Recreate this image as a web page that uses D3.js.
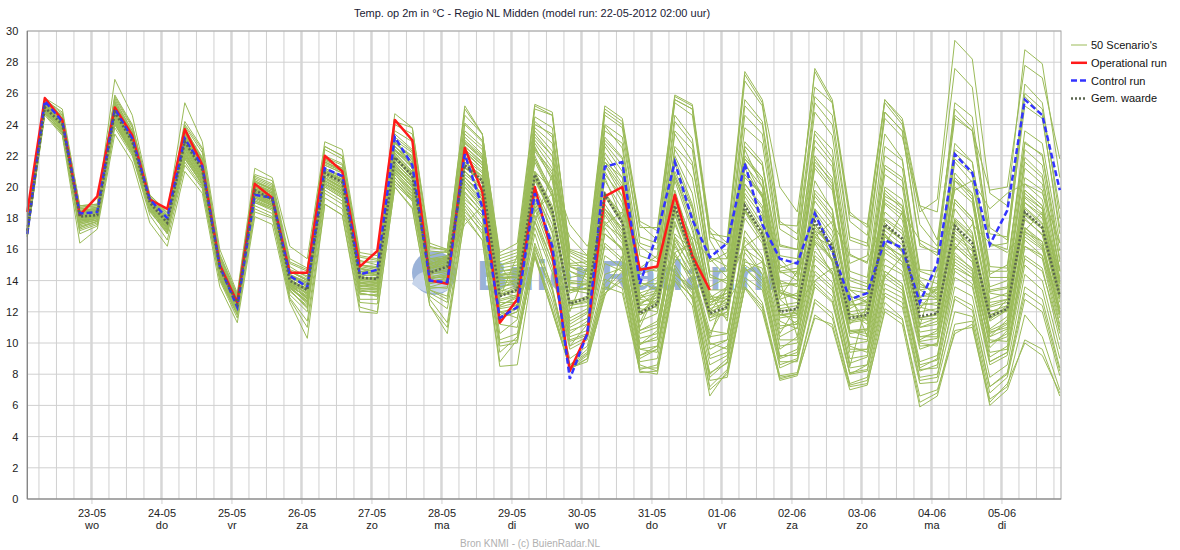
<!DOCTYPE html>
<html>
<head>
<meta charset="utf-8">
<script src="https://cdn.jsdelivr.net/npm/d3@7"></script>
<style>
  body { margin: 0; background: #fff; }
  text { font-family: "Liberation Sans", Arial, sans-serif; }
</style>
</head>
<body>
<div id="chart-area"></div>
<script>
// 60 steps of 6 hours, first one at 22-05-2012 02:00
var startTime = Date.UTC(2012, 4, 22, 2);
var stepHours = 6;

var dayLabels = ["23-05","24-05","25-05","26-05","27-05","28-05","29-05","30-05","31-05","01-06","02-06","03-06","04-06","05-06"];
var weekdayLabels = ["wo","do","vr","za","zo","ma","di","wo","do","vr","za","zo","ma","di"];
var yTicks = [0,2,4,6,8,10,12,14,16,18,20,22,24,26,28,30];

var operationalRun = [18.4,25.7,24.3,18.2, 19.4,25.1,23.3,19.2, 18.6,23.7,21.4,15.0, 12.6,20.2,19.3,14.5,
  14.5,22.0,21.0,14.9, 15.9,24.3,23.0,14.0, 13.8,22.5,19.7,11.3, 12.8,20.0,15.7,8.2, 10.6,19.4,20.0,14.7,
  14.9,19.5,15.6,13.4];

var controlRun = [17.0,25.5,24.2,18.3, 18.4,25.0,23.1,19.2, 18.0,23.1,21.3,14.9, 12.3,19.5,19.3,14.3,
  13.6,21.2,20.7,14.4, 14.7,23.2,21.4,14.0, 13.9,22.1,18.7,11.6, 12.3,19.6,16.2,7.7, 10.6,21.3,21.6,13.8,
  17.0,21.6,17.9,15.5, 16.4,21.5,17.6,15.4, 15.1,18.3,15.9,12.8, 13.2,16.6,16.1,12.6, 15.1,22.1,20.9,16.3,
  18.5,25.6,24.6,19.8];

var meanValues = [17.2,25.1,24.0,18.1, 18.2,24.8,22.9,19.0, 17.7,22.9,21.1,14.8, 12.5,19.8,19.2,14.0,
  13.4,20.9,20.3,14.2, 14.1,21.9,20.7,14.5, 14.9,21.4,20.4,13.0, 13.4,20.8,18.5,12.5, 12.9,19.5,17.7,11.9,
  12.5,18.8,15.5,11.9, 12.3,18.8,17.0,12.0, 12.2,17.8,16.2,11.6, 11.8,17.6,16.7,11.7, 11.9,17.5,16.4,11.7,
  12.2,18.4,17.4,13.0];

var scenarios = [
  [17.0,25.4,24.2,18.3, 18.4,25.0,23.1,19.2, 17.9,23.2,21.3,14.9, 12.3,19.6,19.3,14.3, 13.6,21.2,20.6,14.4, 14.6,23.1,21.2,14.0, 13.8,22.0,19.1,11.7, 12.2,19.5,16.2,10.1, 10.5,17.0,16.1,9.2, 9.8,15.6,14.2,10.3, 13.8,16.2,17.0,14.6, 14.0,18.6,15.2,9.4, 9.6,15.8,15.0,10.1, 10.3,16.2,15.2,9.7, 10.8,17.1,16.5,11.9],
  [17.3,25.0,23.9,17.9, 18.1,25.6,23.6,19.0, 17.5,23.8,21.8,15.2, 12.8,20.4,19.8,14.6, 14.1,21.9,21.4,15.0, 14.8,22.8,22.0,15.3, 15.5,23.2,22.1,14.6, 14.8,23.6,22.3,15.1, 15.2,23.9,22.5,14.8, 15.6,24.6,23.1,15.5, 14.9,25.2,24.0,16.3, 16.0,24.8,23.3,15.7, 15.1,23.4,21.8,14.2, 13.8,21.6,20.3,14.4, 15.0,22.8,22.1,15.9],
  [16.9,24.8,23.6,17.6, 17.9,24.2,22.4,18.7, 17.3,22.1,20.4,14.3, 12.1,19.0,18.6,13.5, 12.6,20.1,19.4,13.2, 13.0,20.8,19.5,13.6, 13.9,19.7,18.4,11.6, 12.0,17.4,14.5,9.6, 10.2,15.1,14.6,8.8, 9.0,14.6,13.2,8.1, 8.7,14.2,13.4,8.4, 8.9,13.8,12.7,8.1, 8.3,13.5,12.9,7.8, 8.0,12.8,12.1,7.2, 8.1,13.6,12.8,8.4],
  [17.2,25.2,24.4,18.5, 18.6,24.6,22.7,18.8, 17.8,22.6,20.9,14.6, 12.6,20.0,19.5,14.1, 13.1,20.6,19.9,13.8, 13.7,21.5,20.1,14.8, 15.2,21.8,20.9,13.6, 13.9,21.6,19.4,13.4, 13.5,20.6,17.9,11.3, 13.6,15.8,16.4,13.2, 11.4,19.6,18.1,12.8, 13.2,19.1,17.6,12.5, 12.4,18.9,17.9,12.3, 12.0,18.6,17.1,10.8, 11.3,19.4,18.6,13.8],
  [17.4,25.5,24.6,18.7, 18.8,25.9,24.0,19.4, 18.1,24.0,22.4,15.6, 13.0,20.6,20.1,15.1, 14.6,22.4,21.8,15.3, 15.0,23.6,22.9,15.9, 15.8,24.1,23.0,15.2, 15.6,24.5,23.8,15.4, 14.6,22.8,21.4,13.9, 13.4,21.5,18.7,12.6, 13.0,21.2,19.3,13.3, 12.8,20.4,18.5,11.9, 11.2,19.0,18.2,12.4, 12.6,20.4,19.2,13.3, 13.5,21.9,20.8,14.6],
  [16.8,24.9,23.5,17.0, 17.5,23.8,22.0,18.2, 16.6,21.4,19.9,14.0, 11.6,18.4,18.0,12.9, 11.4,19.3,18.6,12.6, 12.5,20.2,19.1,12.8, 11.3,18.6,17.0,9.4, 10.4,16.2,13.0,8.6, 9.6,13.8,15.0,9.9, 10.4,16.6,14.8,9.6, 10.2,16.0,15.2,9.8, 10.0,14.6,13.6,8.7, 9.1,14.2,13.4,8.6, 8.9,15.4,14.6,9.1, 9.8,16.2,15.4,10.6],
  [17.1,25.1,23.8,17.8, 18.0,24.4,22.6,18.9, 17.6,22.4,20.6,14.5, 12.4,19.7,19.0,13.7, 12.9,20.8,20.1,14.0, 14.2,21.8,20.6,14.6, 15.0,21.2,20.4,13.4, 13.2,20.4,18.2,12.0, 14.8,17.6,18.4,16.2, 15.4,18.2,15.6,12.0, 13.5,21.8,20.6,14.5, 14.6,22.6,21.3,14.0, 13.6,21.4,20.6,13.8, 13.1,20.9,19.6,13.2, 13.0,20.6,19.8,14.2],
  [17.5,25.6,24.8,18.6, 18.5,25.3,23.4,19.3, 18.0,23.5,21.6,15.0, 12.7,20.2,19.6,14.4, 13.8,21.5,21.0,14.8, 14.3,22.4,21.5,15.0, 15.6,22.8,21.8,14.1, 14.2,22.5,20.8,13.8, 13.8,21.9,20.2,12.6, 12.9,20.7,17.5,12.2, 11.6,18.5,17.2,11.4, 10.9,16.5,15.3,10.4, 10.2,16.8,16.0,11.0, 11.4,17.9,16.8,11.5, 12.4,19.3,18.3,13.1],
  [16.9,25.0,23.7,17.4, 17.8,24.0,22.2,18.5, 17.0,21.8,20.2,14.2, 12.0,19.1,18.7,13.3, 12.4,20.3,19.6,13.5, 13.4,21.0,19.8,14.1, 14.4,20.6,19.5,12.4, 12.9,19.8,17.0,11.2, 11.9,18.4,16.8,10.6, 11.0,17.6,15.0,10.0, 9.6,15.8,14.4,9.2, 9.2,15.0,13.9,8.5, 12.6,14.2,15.6,13.8, 13.2,15.0,14.2,10.2, 10.1,17.0,16.1,11.2],
  [17.3,25.3,24.3,18.2, 18.3,25.4,23.5,19.1, 17.9,23.6,21.7,15.3, 12.9,20.3,19.9,14.7, 14.3,22.0,21.5,15.2, 15.2,23.4,22.4,15.6, 15.9,24.0,22.9,15.0, 15.4,24.2,23.2,15.0, 14.9,24.6,23.8,16.4, 16.0,25.4,24.6,16.8, 16.3,26.8,25.2,17.6, 17.5,27.4,25.4,17.8, 16.9,25.6,24.2,18.4, 19.2,29.4,28.2,19.6, 18.8,28.8,27.9,20.6],
  [17.0,25.2,24.0,18.0, 18.2,24.7,22.8,19.0, 17.7,22.9,21.0,14.7, 12.5,19.9,19.4,14.0, 13.3,20.9,20.3,14.3, 14.0,21.7,20.8,14.4, 14.6,20.8,19.9,12.9, 15.6,18.4,19.6,16.8, 15.6,17.6,16.8,13.2, 12.2,18.4,15.8,11.4, 12.0,18.6,16.8,11.6, 11.8,17.4,16.0,11.3, 11.5,17.2,16.3,11.0, 11.2,16.7,15.6,10.9, 11.7,17.9,17.0,12.8],
  [17.4,25.4,24.5,18.4, 18.7,25.2,23.3,19.4, 18.2,23.4,21.5,15.1, 12.6,19.4,18.9,13.6, 13.0,20.4,19.7,13.7, 13.5,20.6,19.4,13.4, 12.8,19.4,18.0,10.6, 11.5,17.8,15.3,9.8, 11.2,18.6,17.2,11.9, 13.0,20.8,18.2,12.8, 12.6,20.2,18.6,11.8, 11.6,18.4,16.8,10.8, 10.4,16.2,15.6,10.2, 10.8,17.0,16.0,10.4, 11.5,18.2,17.3,12.2],
  [17.0,24.9,23.7,17.7, 18.0,24.5,22.5,18.6, 17.4,22.2,20.4,14.4, 12.2,19.4,18.8,13.8, 12.8,20.4,19.8,13.6, 13.8,21.4,20.2,14.2, 14.2,20.2,18.9,12.2, 12.4,18.6,15.6,10.4, 10.8,16.4,15.4,9.6, 9.4,14.8,12.8,7.2, 8.3,14.0,12.6,7.9, 8.1,12.8,11.9,7.3, 7.6,12.6,11.6,6.2, 6.8,11.2,11.4,6.4, 7.2,11.8,10.4,7.0],
  [17.2,25.0,23.9,18.1, 18.2,24.8,23.0,19.1, 17.6,23.0,21.2,14.9, 12.5,19.8,19.2,14.0, 13.5,21.0,20.4,14.1, 14.0,22.0,20.9,14.7, 15.1,22.4,21.4,14.0, 14.0,22.0,19.6,13.2, 13.6,21.0,19.0,12.5, 13.1,19.8,16.2,12.4, 12.8,19.9,18.3,12.9, 14.6,16.8,17.8,15.6, 15.2,18.0,17.2,14.0, 12.9,19.2,18.0,12.3, 12.6,19.0,18.2,13.6],
  [17.3,25.1,24.1,18.2, 18.4,25.1,23.2,18.9, 17.8,23.1,21.2,14.8, 12.4,19.9,19.3,13.9, 13.4,21.0,20.5,14.2, 14.2,22.2,21.0,14.6, 14.8,21.6,20.6,13.2, 13.0,20.6,18.6,12.2, 12.4,18.9,17.2,11.4, 11.9,18.2,15.2,11.6, 12.4,18.4,16.6,11.8, 12.0,17.2,16.4,11.7, 11.8,17.7,16.6,11.5, 11.6,17.2,16.2,11.4, 12.1,18.6,17.6,13.2],
  [17.1,24.9,23.8,17.9, 18.1,24.6,22.7,18.8, 17.6,22.7,20.8,14.6, 12.3,19.5,18.9,13.8, 13.2,20.6,20.0,13.9, 13.6,21.2,20.0,13.9, 14.0,20.4,19.0,12.0, 11.6,17.0,13.4,9.0, 9.8,14.4,14.8,9.9, 10.8,16.8,15.4,11.8, 12.9,20.6,19.5,14.8, 15.2,23.6,22.4,15.1, 15.6,24.8,23.6,16.2, 15.8,25.4,24.5,16.4, 16.0,25.8,24.6,17.0],
  [17.2,25.3,24.2,18.3, 18.5,25.2,23.2,19.2, 18.0,23.3,21.4,15.0, 12.6,20.0,19.5,14.2, 13.7,21.2,20.7,14.5, 14.4,22.6,21.4,14.9, 15.3,22.6,21.5,14.3, 14.5,23.0,21.6,14.6, 14.0,22.2,20.6,13.2, 13.6,21.8,18.9,13.6, 14.2,22.9,21.6,15.0, 14.4,21.8,20.2,13.4, 12.6,19.6,18.6,12.6, 12.4,19.0,17.8,12.1, 12.0,18.0,16.9,12.6],
  [16.9,24.7,23.4,17.3, 17.7,24.0,22.1,18.4, 17.1,21.9,20.1,14.1, 11.9,19.0,18.5,13.4, 12.2,19.8,19.1,13.1, 13.1,20.6,19.3,13.5, 13.6,19.2,18.2,11.2, 11.0,16.4,13.6,8.6, 9.4,14.1,13.5,8.3, 8.6,14.2,12.9,8.0, 9.0,15.0,14.2,9.1, 9.6,15.4,14.4,9.0, 9.2,14.6,13.8,8.3, 8.4,13.6,13.0,7.8, 8.6,14.4,13.4,9.0],
  [17.3,25.5,24.4,18.5, 18.6,25.5,23.6,19.3, 18.0,23.7,21.9,15.4, 12.9,20.5,20.0,14.9, 14.2,21.8,21.2,15.0, 14.9,23.2,22.3,15.4, 15.4,23.4,22.4,14.8, 15.0,23.8,22.8,14.9, 14.4,23.2,21.9,14.4, 14.8,23.4,21.6,14.6, 14.6,23.8,22.8,15.6, 15.4,23.4,21.9,14.6, 14.2,22.6,21.7,14.7, 14.6,22.8,21.6,14.9, 14.8,22.9,22.0,15.4],
  [17.0,25.1,24.0,18.0, 18.1,24.9,22.9,18.9, 17.5,22.8,20.9,14.6, 12.4,19.7,19.1,13.9, 13.1,20.7,20.1,14.0, 13.9,21.6,20.5,14.3, 14.3,21.0,19.8,12.8, 13.1,21.0,19.8,13.4, 13.5,20.8,19.4,12.8, 13.9,22.6,21.4,15.2, 15.8,25.6,24.2,17.3, 16.6,25.8,24.6,16.8, 16.4,24.4,23.2,18.8, 18.4,27.6,26.4,17.4, 16.6,26.6,25.4,18.0],
  [17.4,25.2,24.3,18.4, 18.4,24.8,22.9,18.9, 17.8,22.8,21.0,14.7, 12.5,19.6,19.0,13.8, 13.2,20.5,19.9,13.9, 13.8,21.2,20.0,14.0, 14.1,20.6,19.4,12.6, 12.6,19.2,16.6,11.0, 11.6,17.8,16.4,10.8, 11.4,16.4,14.0,10.6, 12.6,14.6,15.2,14.0, 10.4,15.9,14.6,9.9, 10.1,15.4,14.6,9.8, 9.9,15.8,14.7,10.0, 10.4,16.6,15.6,11.6],
  [17.1,25.0,23.9,18.1, 18.3,25.3,23.4,19.2, 17.9,23.4,21.5,15.1, 12.7,20.1,19.6,14.3, 13.9,21.6,21.1,14.9, 14.7,22.9,21.9,15.1, 15.4,22.9,21.9,14.4, 14.4,22.8,21.2,14.0, 13.9,21.4,19.8,12.9, 13.2,20.4,17.2,12.8, 13.2,20.8,19.4,13.4, 13.0,19.6,18.2,12.2, 12.8,19.8,18.8,12.9, 13.4,20.6,19.4,12.8, 13.2,20.2,19.2,14.1],
  [17.2,24.8,23.6,17.6, 17.9,24.3,22.4,18.6, 17.2,22.0,20.3,14.3, 12.1,19.2,18.7,13.6, 12.5,20.2,19.5,13.4, 13.2,20.9,19.7,13.8, 14.0,20.0,18.6,11.8, 12.5,18.8,16.0,10.6, 11.4,17.4,15.9,10.3, 10.6,16.2,14.4,9.9, 10.2,17.2,15.6,10.9, 11.4,17.0,15.8,10.8, 10.9,16.8,15.9,11.1, 14.8,19.8,20.4,18.6, 19.6,20.2,19.6,16.4],
  [17.3,25.4,24.4,18.6, 18.7,25.8,23.9,19.5, 18.3,24.2,22.5,15.7, 13.1,20.8,20.4,15.4, 14.8,22.6,22.0,15.6, 15.4,24.0,23.4,16.2, 15.9,24.6,23.4,15.6, 16.0,25.0,24.6,15.8, 15.2,25.0,24.2,17.6, 16.6,25.6,25.0,17.2, 15.4,22.4,20.0,12.8, 11.8,17.2,15.2,10.8, 10.6,16.4,15.2,10.4, 10.4,16.8,15.9,10.7, 11.0,17.4,16.3,12.0],
  [16.9,24.9,23.8,17.8, 18.0,24.7,22.8,18.8, 17.5,22.7,20.9,14.7, 12.4,19.8,19.2,14.0, 13.3,21.0,20.3,14.1, 14.1,22.1,21.0,14.8, 15.0,21.6,20.7,13.3, 13.7,21.0,18.8,12.7, 12.9,19.6,17.8,11.8, 12.4,18.7,15.4,11.8, 12.2,18.9,17.1,12.1, 12.1,17.6,16.0,11.5, 11.7,17.5,16.6,11.6, 11.9,17.6,16.5,11.8, 12.2,18.4,17.4,13.0],
  [17.5,25.3,24.6,18.8, 18.9,25.0,23.0,19.0, 17.7,22.5,20.7,14.5, 12.2,19.3,18.8,13.5, 12.7,20.0,19.3,13.3, 13.3,20.4,19.2,13.4, 13.0,19.0,17.6,10.2, 10.6,16.0,13.4,8.4, 9.2,13.4,14.6,8.1, 8.2,14.0,13.0,7.0, 8.0,13.6,12.4,7.6, 7.9,11.8,11.0,7.0, 7.3,12.2,11.5,6.6, 7.0,10.6,11.2,6.0, 7.0,10.2,9.6,6.6],
  [17.2,25.2,24.1,18.2, 18.3,24.9,23.0,19.0, 17.7,23.0,21.1,14.8, 12.5,19.9,19.3,14.1, 13.4,21.1,20.4,14.2, 14.1,22.0,20.9,14.6, 14.9,21.5,20.5,13.1, 13.6,20.9,18.6,12.6, 13.0,19.7,17.9,12.0, 12.6,19.0,15.7,12.0, 12.5,19.1,17.3,12.2, 12.4,18.1,16.5,11.8, 12.0,17.9,17.0,12.0, 12.2,17.8,16.7,12.0, 12.4,18.7,17.7,13.3],
  [17.1,25.1,24.0,18.0, 18.1,24.5,22.6,18.7, 17.4,22.4,20.6,14.5, 12.3,19.5,19.0,13.7, 12.9,20.6,19.9,13.8, 13.9,21.4,20.3,14.4, 15.2,17.6,18.8,15.0, 13.4,20.6,18.0,12.4, 12.7,19.6,18.2,12.4, 13.4,20.6,18.0,12.9, 13.6,21.4,20.0,13.6, 13.8,21.6,20.4,13.6, 13.4,21.2,20.4,13.4, 13.6,21.8,20.8,13.6, 14.0,21.6,20.6,14.7],
  [17.3,25.3,24.2,18.3, 18.5,25.2,23.2,19.1, 17.9,23.2,21.4,15.0, 12.6,20.0,19.4,14.2, 13.6,21.2,20.6,14.4, 14.3,22.3,21.3,14.9, 15.2,22.3,21.2,14.2, 14.3,22.3,20.6,13.9, 13.7,21.4,19.4,12.8, 12.6,19.4,16.6,11.8, 11.8,18.0,16.4,11.1, 11.2,16.8,15.4,10.7, 10.9,16.9,16.0,11.2, 11.6,18.0,17.0,11.8, 12.2,19.0,18.0,13.4],
  [17.0,24.8,23.6,17.5, 17.8,24.2,22.3,18.6, 17.1,22.0,20.2,14.2, 12.0,19.1,18.6,13.4, 12.3,20.0,19.3,13.2, 13.0,20.4,19.1,13.2, 12.6,18.8,17.4,10.0, 10.2,15.6,12.6,8.3, 9.0,13.2,14.0,8.4, 8.4,14.4,13.4,7.6, 7.8,13.6,12.2,7.8, 8.0,12.6,11.6,7.4, 7.8,13.0,12.3,7.4, 7.5,12.0,11.7,6.8, 7.8,12.8,12.0,7.9],
  [17.4,25.4,24.3,18.4, 18.6,25.4,23.4,19.2, 18.0,23.5,21.6,15.2, 12.8,20.3,19.8,14.6, 14.0,21.7,21.2,14.8, 14.6,22.6,21.6,15.0, 15.3,22.8,21.8,14.4, 14.6,23.2,22.0,14.9, 14.6,23.6,22.8,15.6, 15.2,24.2,22.8,15.4, 15.4,24.6,23.4,16.2, 16.0,25.4,24.0,16.6, 16.2,24.8,23.6,16.4, 15.6,24.4,23.6,16.2, 16.4,25.2,24.4,17.4],
  [17.1,25.0,23.8,17.9, 18.0,24.6,22.7,18.9, 17.5,22.6,20.8,14.6, 12.3,19.6,19.0,13.8, 13.0,20.6,20.0,14.0, 13.9,21.6,20.4,14.4, 14.6,21.0,20.0,12.7, 13.0,20.0,17.6,11.6, 12.2,18.6,17.0,11.0, 13.4,15.2,16.8,15.4, 14.2,16.2,14.4,10.4, 11.0,16.6,15.4,10.6, 10.8,16.4,15.5,10.7, 10.9,16.4,15.4,10.6, 11.2,17.4,16.5,12.2],
  [17.2,25.2,24.1,18.1, 18.3,25.0,23.1,19.1, 17.8,23.1,21.3,14.9, 12.5,19.8,19.3,14.0, 13.5,21.0,20.4,14.2, 14.1,21.9,20.8,14.5, 14.7,21.4,20.3,13.0, 13.5,20.8,18.4,12.5, 12.8,19.4,17.6,11.8, 12.4,18.6,15.3,11.6, 12.0,18.5,16.8,11.8, 11.9,17.6,16.0,11.4, 11.6,17.4,16.6,11.6, 11.8,17.4,16.2,11.6, 12.1,18.3,17.3,12.9],
  [16.8,24.7,23.4,17.2, 17.6,24.1,22.2,18.5, 17.0,21.6,20.0,14.1, 11.8,18.8,18.3,13.1, 12.0,19.6,18.9,12.8, 12.8,20.4,19.2,13.0, 12.2,18.4,17.2,9.8, 10.0,15.8,12.2,8.4, 9.0,13.0,15.6,9.0, 9.6,15.6,14.2,9.2, 9.8,15.2,14.8,9.6, 10.4,16.8,16.2,11.2, 12.2,19.4,18.8,13.6, 13.4,22.4,21.6,14.6, 14.6,23.6,22.8,16.4],
  [17.5,25.6,24.7,18.7, 18.8,25.7,23.8,19.4, 18.2,23.9,22.2,15.5, 13.0,20.7,20.2,15.2, 14.7,22.6,22.0,15.5, 15.3,24.2,23.8,16.1, 16.0,25.0,23.4,15.4, 15.8,25.2,24.6,16.0, 15.6,25.2,24.4,17.8, 17.2,25.8,25.2,16.6, 14.6,21.6,19.4,12.0, 11.2,16.4,14.4,9.8, 9.4,14.6,13.8,8.8, 9.2,14.8,14.2,9.4, 9.6,15.4,14.6,10.8],
  [17.0,25.0,23.9,18.0, 18.2,24.8,22.9,18.9, 17.6,22.8,21.0,14.7, 12.5,19.9,19.4,14.1, 13.4,21.1,20.5,14.3, 14.4,22.4,21.2,14.8, 15.2,22.2,21.2,13.8, 14.0,21.8,19.4,13.4, 13.8,21.6,20.6,13.6, 14.2,22.4,20.6,14.2, 14.0,22.0,20.6,14.0, 13.6,21.2,19.8,13.0, 12.6,20.0,19.2,13.0, 13.0,20.4,19.6,13.4, 13.6,21.2,20.2,14.6],
  [17.3,25.1,24.1,18.3, 18.5,24.6,22.7,18.8, 17.6,22.5,20.7,14.5, 12.4,19.5,19.0,13.7, 12.9,20.4,19.7,13.6, 13.6,21.0,19.8,13.9, 14.2,20.0,18.8,12.0, 12.2,18.2,15.2,10.2, 10.6,16.2,15.2,9.6, 9.8,15.8,13.8,9.0, 9.4,15.4,14.0,9.0, 9.4,14.4,13.4,8.4, 8.6,13.8,13.2,8.2, 8.6,14.2,13.6,8.6, 9.2,15.0,14.0,9.6],
  [17.2,25.3,24.2,18.2, 18.4,25.1,23.2,19.1, 17.9,23.3,21.4,15.0, 12.6,20.1,19.6,14.3, 13.7,21.4,20.9,14.6, 14.5,22.8,21.8,15.2, 15.5,23.0,22.0,14.6, 14.7,23.4,22.0,14.6, 14.2,22.6,21.0,13.8, 13.8,22.0,19.6,13.4, 13.4,21.8,20.4,13.8, 13.8,21.4,20.0,13.4, 13.2,20.8,20.0,13.4, 12.8,20.0,19.0,12.6, 12.8,19.8,18.8,13.9],
  [16.9,24.8,23.5,17.4, 17.8,24.1,22.3,18.6, 17.2,21.8,20.2,14.2, 11.8,18.6,18.1,12.8, 11.0,18.9,18.2,12.3, 12.0,20.0,18.7,12.4, 11.0,18.0,16.6,8.8, 10.2,15.5,12.0,8.5, 9.3,13.6,13.2,8.2, 8.0,14.0,12.4,6.6, 8.2,13.5,12.0,7.7, 8.0,11.6,11.2,7.2, 7.4,12.0,11.2,5.9, 6.6,10.8,11.0,6.2, 7.4,10.0,9.2,6.8],
  [17.1,25.2,24.0,18.1, 18.3,25.1,23.2,19.2, 18.0,23.4,21.6,15.2, 12.8,20.2,19.7,14.6, 14.0,21.8,21.2,15.0, 14.8,23.0,22.2,15.4, 15.6,23.6,22.6,15.0, 15.2,24.0,23.4,15.6, 15.0,24.0,23.2,16.8, 16.4,25.6,25.0,17.0, 16.8,27.4,25.6,20.0, 18.4,26.4,25.4,18.2, 17.6,25.6,24.4,18.8, 16.6,24.6,23.6,19.8, 20.0,27.8,27.0,21.8],
  [17.2,25.1,24.0,18.1, 18.2,24.7,22.8,18.9, 17.6,22.7,20.9,14.6, 12.4,19.7,19.1,13.9, 13.2,20.8,20.2,14.1, 14.0,21.8,20.7,14.5, 14.7,21.3,20.2,13.0, 13.4,20.6,18.2,12.4, 12.6,19.4,17.8,12.0, 12.8,19.2,16.2,12.2, 12.6,19.4,17.6,12.4, 12.6,18.6,17.2,12.0, 12.2,18.4,17.4,12.2, 13.6,16.0,17.6,16.4, 15.8,17.2,18.4,14.6],
  [17.0,24.9,23.7,17.8, 18.0,24.4,22.5,18.7, 17.3,22.1,20.4,14.4, 12.2,19.3,18.8,13.6, 12.7,20.2,19.5,13.5, 13.5,21.1,20.0,14.1, 14.3,20.4,19.2,12.3, 12.6,19.0,16.4,10.8, 11.2,17.0,16.0,10.0, 10.2,17.0,16.0,12.4, 13.6,22.6,21.4,15.4, 14.2,22.0,20.6,12.8, 11.4,17.0,15.8,10.0, 9.8,15.2,14.4,8.8, 9.4,16.2,15.6,11.0],
  [17.4,25.3,24.3,18.4, 18.6,25.3,23.3,19.2, 18.0,23.4,21.5,15.1, 12.7,20.1,19.6,14.3, 13.8,21.4,20.9,14.6, 14.4,22.4,21.4,14.8, 15.0,22.0,21.0,13.6, 13.8,21.8,19.8,13.4, 13.2,20.4,18.6,12.2, 12.0,17.8,14.8,10.8, 10.6,16.6,15.4,10.2, 10.2,15.6,14.6,9.6, 9.6,15.0,14.4,9.6, 10.0,15.6,14.8,10.0, 10.6,16.8,16.0,11.8],
  [17.1,25.1,24.0,18.0, 18.1,24.7,22.8,18.9, 17.6,22.8,21.0,14.7, 12.5,19.8,19.2,14.0, 13.4,20.9,20.3,14.1, 14.1,21.9,20.9,14.6, 14.9,21.6,20.7,13.4, 14.2,17.8,20.8,17.6, 16.2,18.6,17.4,12.4, 12.6,19.4,16.6,12.6, 13.2,20.2,18.8,13.2, 13.0,19.4,18.0,12.4, 12.6,19.2,18.4,12.8, 12.8,19.2,18.0,12.4, 12.8,19.6,18.6,13.8],
  [16.8,24.6,23.3,16.4, 17.3,23.4,21.6,17.7, 16.2,21.0,19.6,13.6, 11.3,18.1,17.6,12.6, 10.3,18.9,18.2,12.0, 11.9,20.0,18.6,12.4, 10.6,18.2,16.6,8.5, 8.6,15.6,12.0,8.4, 8.8,13.2,14.2,8.6, 8.2,14.4,13.6,7.8, 8.8,14.8,13.8,8.6, 9.0,14.0,13.0,8.0, 8.6,14.4,13.6,8.4, 9.0,14.6,13.8,8.8, 9.4,15.6,14.8,10.2],
  [17.6,25.7,25.0,18.8, 18.9,26.9,24.6,19.5, 18.4,25.4,22.9,16.0, 13.2,21.2,20.6,16.2, 15.4,22.9,22.4,15.8, 15.6,24.7,23.8,16.4, 16.0,25.2,23.4,15.8, 16.4,25.3,24.8,15.9, 15.4,24.8,24.0,17.4, 17.4,25.9,25.3,17.4, 16.4,27.2,25.4,17.8, 17.0,27.6,25.6,18.4, 17.4,25.4,24.0,17.6, 16.2,25.0,23.8,17.0, 16.8,26.0,25.0,18.6],
  [17.2,25.0,23.8,17.9, 18.0,24.5,22.6,18.8, 17.4,22.3,20.5,14.4, 12.3,19.4,18.9,13.8, 12.8,20.4,19.8,13.7, 13.7,21.3,20.2,14.2, 14.5,20.6,19.6,12.4, 13.0,19.8,17.2,11.4, 12.0,18.2,16.6,10.8, 11.2,16.8,14.6,10.4, 10.6,16.8,15.4,10.6, 12.4,14.0,14.8,13.2, 10.4,16.0,15.2,10.4, 10.6,16.2,15.2,10.4, 10.9,17.2,16.2,11.9],
  [17.3,25.2,24.2,18.3, 18.4,25.2,23.3,19.2, 17.9,23.3,21.5,15.1, 12.7,20.2,19.7,14.4, 13.9,21.6,21.0,14.7, 14.6,22.9,21.8,15.1, 15.3,22.6,21.6,14.2, 14.2,22.4,21.0,14.2, 14.4,23.0,21.8,14.8, 14.6,23.6,22.4,14.4, 13.8,22.6,21.4,14.6, 14.8,23.0,21.6,14.2, 13.8,22.0,21.2,14.6, 14.2,22.2,21.0,14.2, 14.2,22.4,21.4,15.2],
  [17.0,24.8,23.6,17.7, 17.9,24.3,22.4,18.7, 17.3,22.2,20.5,14.4, 12.2,19.3,18.8,13.6, 12.6,20.2,19.6,13.4, 13.4,20.8,19.6,13.6, 13.5,19.6,18.4,11.6, 12.0,17.8,14.8,9.8, 10.4,15.6,14.8,9.2, 9.6,15.0,13.4,8.6, 9.2,14.8,13.6,8.8, 8.8,13.6,12.6,8.0, 8.2,13.2,12.6,7.6, 7.8,13.0,12.4,7.2, 8.0,13.2,12.4,8.2],
  [17.3,25.4,24.3,18.4, 18.5,25.3,23.4,19.3, 18.0,23.6,21.8,15.2, 12.8,20.4,19.9,14.6, 14.0,21.6,21.1,14.8, 14.5,22.6,21.7,15.1, 15.4,22.4,21.4,14.0, 14.0,22.6,20.4,13.6, 13.4,21.6,20.0,13.0, 13.4,21.0,18.6,13.0, 12.8,20.8,19.6,13.2, 12.8,19.8,18.6,12.6, 13.0,16.2,18.4,16.6, 16.0,17.8,15.4,11.6, 12.8,19.8,18.8,13.9]
];

var legendItems = [
  { label: "50 Scenario's", color: "#9bbb59", width: 1, dash: null },
  { label: "Operational run", color: "#ff1a1a", width: 2.5, dash: null },
  { label: "Control run", color: "#3333ff", width: 2.5, dash: "6,3" },
  { label: "Gem. waarde", color: "#5b6650", width: 2.5, dash: "2,2" }
];

var W = 1180, H = 550;
var plot = { left: 27.3, right: 1061, top: 31, bottom: 499 };

var svg = d3.select("#chart-area")
  .append("svg")
    .attr("width", W)
    .attr("height", H);

var times = d3.range(60).map(function(i) {
  return new Date(startTime + i * stepHours * 3600000);
});

var x = d3.scaleUtc()
  .domain([times[0], times[59]])
  .range([plot.left, 1059.8]);

var y = d3.scaleLinear()
  .domain([0, 30])
  .range([plot.bottom, plot.top]);

// title
svg.append("text")
  .attr("x", 532)
  .attr("y", 17)
  .attr("text-anchor", "middle")
  .attr("font-size", "11px")
  .attr("fill", "#1a1a33")
  .text("Temp. op 2m in °C - Regio NL Midden (model run: 22-05-2012 02:00 uur)");

// grid
var grid = svg.append("g").attr("class", "grid");
var endTime = x.invert(plot.right);

grid.selectAll(".hgrid")
  .data(yTicks.slice(1))
  .enter().append("line")
    .attr("x1", plot.left).attr("x2", plot.right)
    .attr("y1", function(d) { return y(d); })
    .attr("y2", function(d) { return y(d); })
    .attr("stroke", "#d0d0d0")
    .attr("stroke-width", 1);

var sixHours = d3.utcHour.every(6).range(times[0], endTime);
grid.selectAll(".vgrid")
  .data(sixHours)
  .enter().append("line")
    .attr("x1", function(d) { return x(d); })
    .attr("x2", function(d) { return x(d); })
    .attr("y1", plot.top).attr("y2", plot.bottom)
    .attr("stroke", function(d) { return d.getUTCHours() === 0 ? "#d6d6d6" : "#d0d0d0"; })
    .attr("stroke-width", function(d) { return d.getUTCHours() === 0 ? 2.5 : 1; });

// watermark
var wm = svg.append("g");
wm.append("circle")
  .attr("cx", 434).attr("cy", 273).attr("r", 22)
  .attr("fill", "#9ab2d8");
wm.append("path")
  .attr("d", "M412,284 q6,-18 28,-10 q14,5 12,14 q-20,12 -40,-4 z")
  .attr("fill", "#c6d4ea");
wm.append("text")
  .attr("x", 477).attr("y", 290)
  .attr("font-size", "42px")
  .attr("font-weight", "bold")
  .attr("textLength", 300)
  .attr("fill", "#9ab2d8")
  .text("BuienRadar.nl");

// plot border
svg.append("rect")
  .attr("x", plot.left).attr("y", plot.top)
  .attr("width", plot.right - plot.left)
  .attr("height", plot.bottom - plot.top)
  .attr("fill", "none")
  .attr("stroke", "#a6a6a6")
  .attr("stroke-width", 1);

// lines
var line = d3.line()
  .x(function(d, i) { return x(times[i]); })
  .y(function(d) { return y(d); });

var series = svg.append("g").attr("class", "series");

series.selectAll(".scenario")
  .data(scenarios)
  .enter().append("path")
    .attr("class", "scenario")
    .attr("d", line)
    .attr("fill", "none")
    .attr("stroke", "#9bbb59")
    .attr("stroke-width", 1);

series.append("path")
  .attr("d", line(operationalRun))
  .attr("fill", "none")
  .attr("stroke", "#ff1a1a")
  .attr("stroke-width", 2.5)
  .attr("stroke-linejoin", "round");

series.append("path")
  .attr("d", line(controlRun))
  .attr("fill", "none")
  .attr("stroke", "#3333ff")
  .attr("stroke-width", 2.5)
  .attr("stroke-dasharray", "6,3");

series.append("path")
  .attr("d", line(meanValues))
  .attr("fill", "none")
  .attr("stroke", "#5b6650")
  .attr("stroke-width", 2.5)
  .attr("stroke-dasharray", "2,2");

// axes
var yAxis = d3.axisLeft(y)
  .tickValues(yTicks)
  .tickSize(0)
  .tickPadding(9);

var yg = svg.append("g")
  .attr("transform", "translate(" + plot.left + ",0)")
  .call(yAxis);
yg.select(".domain").remove();
yg.selectAll("text")
  .attr("font-size", "11px")
  .attr("fill", "#222");

var days = d3.utcDay.range(times[0], endTime);
var xAxis = d3.axisBottom(x)
  .tickValues(days)
  .tickSize(5)
  .tickPadding(5)
  .tickFormat(function(d, i) { return dayLabels[i]; });

var xg = svg.append("g")
  .attr("transform", "translate(0," + plot.bottom + ")")
  .call(xAxis);
xg.select(".domain").remove();
xg.selectAll(".tick line").attr("stroke", "#d0d0d0");
xg.selectAll(".tick text")
  .attr("font-size", "11px")
  .attr("fill", "#222")
  .each(function(d, i) {
    d3.select(this).append("tspan")
      .attr("x", 0)
      .attr("dy", "1.15em")
      .text(weekdayLabels[i]);
  });

svg.append("line")
  .attr("x1", plot.left).attr("x2", plot.left)
  .attr("y1", plot.top).attr("y2", plot.bottom)
  .attr("stroke", "#808080").attr("stroke-width", 1.2);
svg.append("line")
  .attr("x1", plot.left).attr("x2", plot.right)
  .attr("y1", plot.bottom).attr("y2", plot.bottom)
  .attr("stroke", "#808080").attr("stroke-width", 1.2);

// legend
var legend = svg.append("g")
  .attr("transform", "translate(1071,45)");

var li = legend.selectAll(".item")
  .data(legendItems)
  .enter().append("g")
    .attr("transform", function(d, i) { return "translate(0," + (i * 17.8) + ")"; });

li.append("line")
  .attr("x1", 0).attr("x2", 16)
  .attr("stroke", function(d) { return d.color; })
  .attr("stroke-width", function(d) { return d.width; })
  .attr("stroke-dasharray", function(d) { return d.dash; });

li.append("text")
  .attr("x", 20)
  .attr("y", 4)
  .attr("font-size", "11px")
  .attr("fill", "#111")
  .text(function(d) { return d.label; });

// footer
svg.append("text")
  .attr("x", 530)
  .attr("y", 547)
  .attr("text-anchor", "middle")
  .attr("font-size", "10px")
  .attr("fill", "#b0b0b0")
  .text("Bron KNMI - (c) BuienRadar.NL");
</script>
</body>
</html>
